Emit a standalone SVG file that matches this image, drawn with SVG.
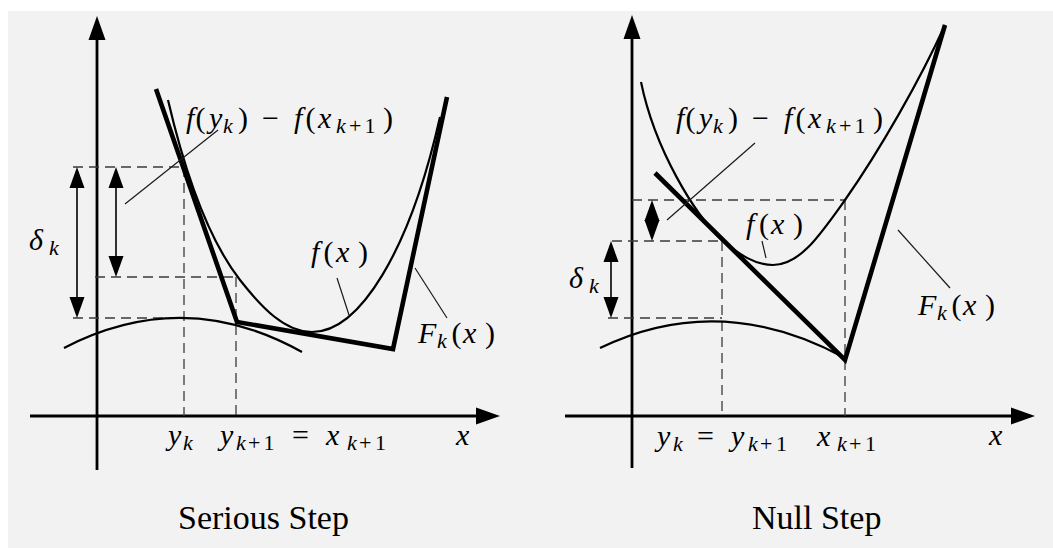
<svg xmlns="http://www.w3.org/2000/svg" width="1053" height="548" viewBox="0 0 1053 548">
<defs>
<style>
.axis{stroke:#000;stroke-width:2.8;fill:none}
.dash{stroke:#3a3a3a;stroke-width:1.3;stroke-dasharray:10 6;fill:none}
.thick{stroke:#000;stroke-width:4.6;fill:none;stroke-linejoin:miter;stroke-miterlimit:20}
.curve{stroke:#000;stroke-width:2.2;fill:none}
.lead{stroke:#1a1a1a;stroke-width:1.2;fill:none}
.dim{stroke:#000;stroke-width:1.6;fill:none}
.lbl{font-family:"Liberation Serif","Times New Roman","DejaVu Serif",serif;fill:#000}
.m{font-style:italic;font-size:30px}
.u{font-style:normal}
.s{font-size:22px}
.cap{font-size:34px;font-style:normal}
</style>
<marker id="axh" markerUnits="userSpaceOnUse" viewBox="-2 -10 30 20" markerWidth="30" markerHeight="20" refX="6" refY="0" orient="auto">
<path d="M0,-8.5 L24,0 L0,8.5 Z" fill="#000"/>
</marker>
<marker id="dh" markerUnits="userSpaceOnUse" viewBox="-2 -9 26 18" markerWidth="26" markerHeight="18" refX="5" refY="0" orient="auto-start-reverse">
<path d="M0,-7.5 L21,0 L0,7.5 Z" fill="#000"/>
</marker>
</defs>
<rect x="0" y="0" width="1053" height="548" fill="#ffffff"/>
<rect x="8" y="11" width="1045" height="537" fill="#f2f2f2"/>

<g id="serious-step">
<g id="ss-axes">
<line class="axis" x1="97" y1="470" x2="97" y2="34" marker-end="url(#axh)"/>
<line class="axis" x1="30" y1="416" x2="482" y2="416" marker-end="url(#axh)"/>
</g>
<g id="ss-guides">
<path class="dash" d="M73,167 H185 M184,167 V416 M95,277 H236 M236,277 V416 M73,318 H184"/>
</g>
<g id="ss-curves">
<path class="curve" d="M168,100 C182,160 205,235 240,280 C262,308 285,332 312,332 C360,332 410,250 440,117"/>
<path class="curve" d="M64,348 Q184,286 302,352"/>
<polyline class="thick" points="156,89 237,322 393,349 447,97"/>
</g>
<g id="ss-dims">
<line class="dim" x1="77" y1="183" x2="77" y2="302" marker-start="url(#dh)" marker-end="url(#dh)"/>
<line class="dim" x1="116" y1="183" x2="116" y2="261" marker-start="url(#dh)" marker-end="url(#dh)"/>
</g>
<g id="ss-leaders">
<line class="lead" x1="218" y1="130" x2="125" y2="204"/>
<line class="lead" x1="337" y1="278" x2="349" y2="315"/>
<line class="lead" x1="415" y1="268" x2="447" y2="318"/>
</g>
<g id="ss-labels" class="lbl">
<text class="m"><tspan x="186" y="128">f</tspan><tspan class="u" x="195.5" y="128">(</tspan><tspan x="209" y="128">y</tspan><tspan class="s" x="223" y="133">k</tspan><tspan class="u" x="238" y="128">)</tspan><tspan class="u" x="262" y="128">−</tspan><tspan x="294" y="128">f</tspan><tspan class="u" x="305.5" y="128">(</tspan><tspan x="318" y="128">x</tspan><tspan class="s" x="336" y="133">k</tspan><tspan class="u s" x="349" y="133">+</tspan><tspan class="u s" x="364.5" y="133">1</tspan><tspan class="u" x="383" y="128">)</tspan></text>
<text class="m"><tspan x="29" y="250">δ</tspan><tspan class="s" x="49" y="255">k</tspan></text>
<text class="m"><tspan x="311" y="262">f</tspan><tspan class="u" x="323.5" y="262">(</tspan><tspan x="336" y="262">x</tspan><tspan class="u" x="358" y="262">)</tspan></text>
<text class="m"><tspan x="418" y="343">F</tspan><tspan class="s" x="437" y="348">k</tspan><tspan class="u" x="451.5" y="343">(</tspan><tspan x="463" y="343">x</tspan><tspan class="u" x="485" y="343">)</tspan></text>
<text class="m"><tspan x="168" y="445">y</tspan><tspan class="s" x="183" y="450">k</tspan></text>
<text class="m"><tspan x="220" y="445">y</tspan><tspan class="s" x="236" y="450">k</tspan><tspan class="u s" x="248" y="450">+</tspan><tspan class="u s" x="263.5" y="450">1</tspan><tspan class="u" x="292" y="445">=</tspan><tspan x="326" y="445">x</tspan><tspan class="s" x="347" y="450">k</tspan><tspan class="u s" x="359" y="450">+</tspan><tspan class="u s" x="375" y="450">1</tspan></text>
<text class="m" x="456" y="445">x</text>
<text class="cap" x="178" y="529">Serious Step</text>
</g>
</g>

<g id="null-step">
<g id="ns-axes">
<line class="axis" x1="632" y1="468" x2="632" y2="33" marker-end="url(#axh)"/>
<line class="axis" x1="565" y1="416" x2="1017" y2="416" marker-end="url(#axh)"/>
</g>
<g id="ns-guides">
<path class="dash" d="M632,200 H845 M845,200 V416 M612,241 H722 M722,241 V416 M608,318 H722"/>
</g>
<g id="ns-curves">
<path class="curve" d="M641,82 C655,150 695,215 722,240 C740,255 755,265 773,265 C800,265 820,235 845,200 C880,150 920,80 945,25"/>
<path class="curve" d="M600,348 Q720,290 845,358"/>
<polyline class="thick" points="655,173 845,360 945,25"/>
</g>
<g id="ns-dims">
<line class="dim" x1="652" y1="216" x2="652" y2="225" marker-start="url(#dh)" marker-end="url(#dh)"/>
<line class="dim" x1="611" y1="257" x2="611" y2="302" marker-start="url(#dh)" marker-end="url(#dh)"/>
</g>
<g id="ns-leaders">
<line class="lead" x1="755" y1="143" x2="667" y2="220"/>
<line class="lead" x1="762" y1="241" x2="766" y2="258"/>
<line class="lead" x1="898" y1="230" x2="950" y2="288"/>
</g>
<g id="ns-labels" class="lbl">
<text class="m"><tspan x="676" y="128">f</tspan><tspan class="u" x="685.5" y="128">(</tspan><tspan x="699" y="128">y</tspan><tspan class="s" x="713" y="133">k</tspan><tspan class="u" x="728" y="128">)</tspan><tspan class="u" x="752" y="128">−</tspan><tspan x="784" y="128">f</tspan><tspan class="u" x="795.5" y="128">(</tspan><tspan x="808" y="128">x</tspan><tspan class="s" x="826" y="133">k</tspan><tspan class="u s" x="839" y="133">+</tspan><tspan class="u s" x="854.5" y="133">1</tspan><tspan class="u" x="873" y="128">)</tspan></text>
<text class="m"><tspan x="569" y="288">δ</tspan><tspan class="s" x="589" y="293">k</tspan></text>
<text class="m"><tspan x="746" y="234">f</tspan><tspan class="u" x="759" y="234">(</tspan><tspan x="771" y="234">x</tspan><tspan class="u" x="793" y="234">)</tspan></text>
<text class="m"><tspan x="918" y="315">F</tspan><tspan class="s" x="937" y="320">k</tspan><tspan class="u" x="951.5" y="315">(</tspan><tspan x="963" y="315">x</tspan><tspan class="u" x="985" y="315">)</tspan></text>
<text class="m"><tspan x="657" y="446">y</tspan><tspan class="s" x="673" y="451">k</tspan><tspan class="u" x="697" y="446">=</tspan><tspan x="731" y="446">y</tspan><tspan class="s" x="748" y="451">k</tspan><tspan class="u s" x="760" y="451">+</tspan><tspan class="u s" x="776" y="451">1</tspan></text>
<text class="m"><tspan x="817" y="446">x</tspan><tspan class="s" x="837" y="451">k</tspan><tspan class="u s" x="849" y="451">+</tspan><tspan class="u s" x="865" y="451">1</tspan></text>
<text class="m" x="989" y="445">x</text>
<text class="cap" x="752" y="529">Null Step</text>
</g>
</g>
</svg>
